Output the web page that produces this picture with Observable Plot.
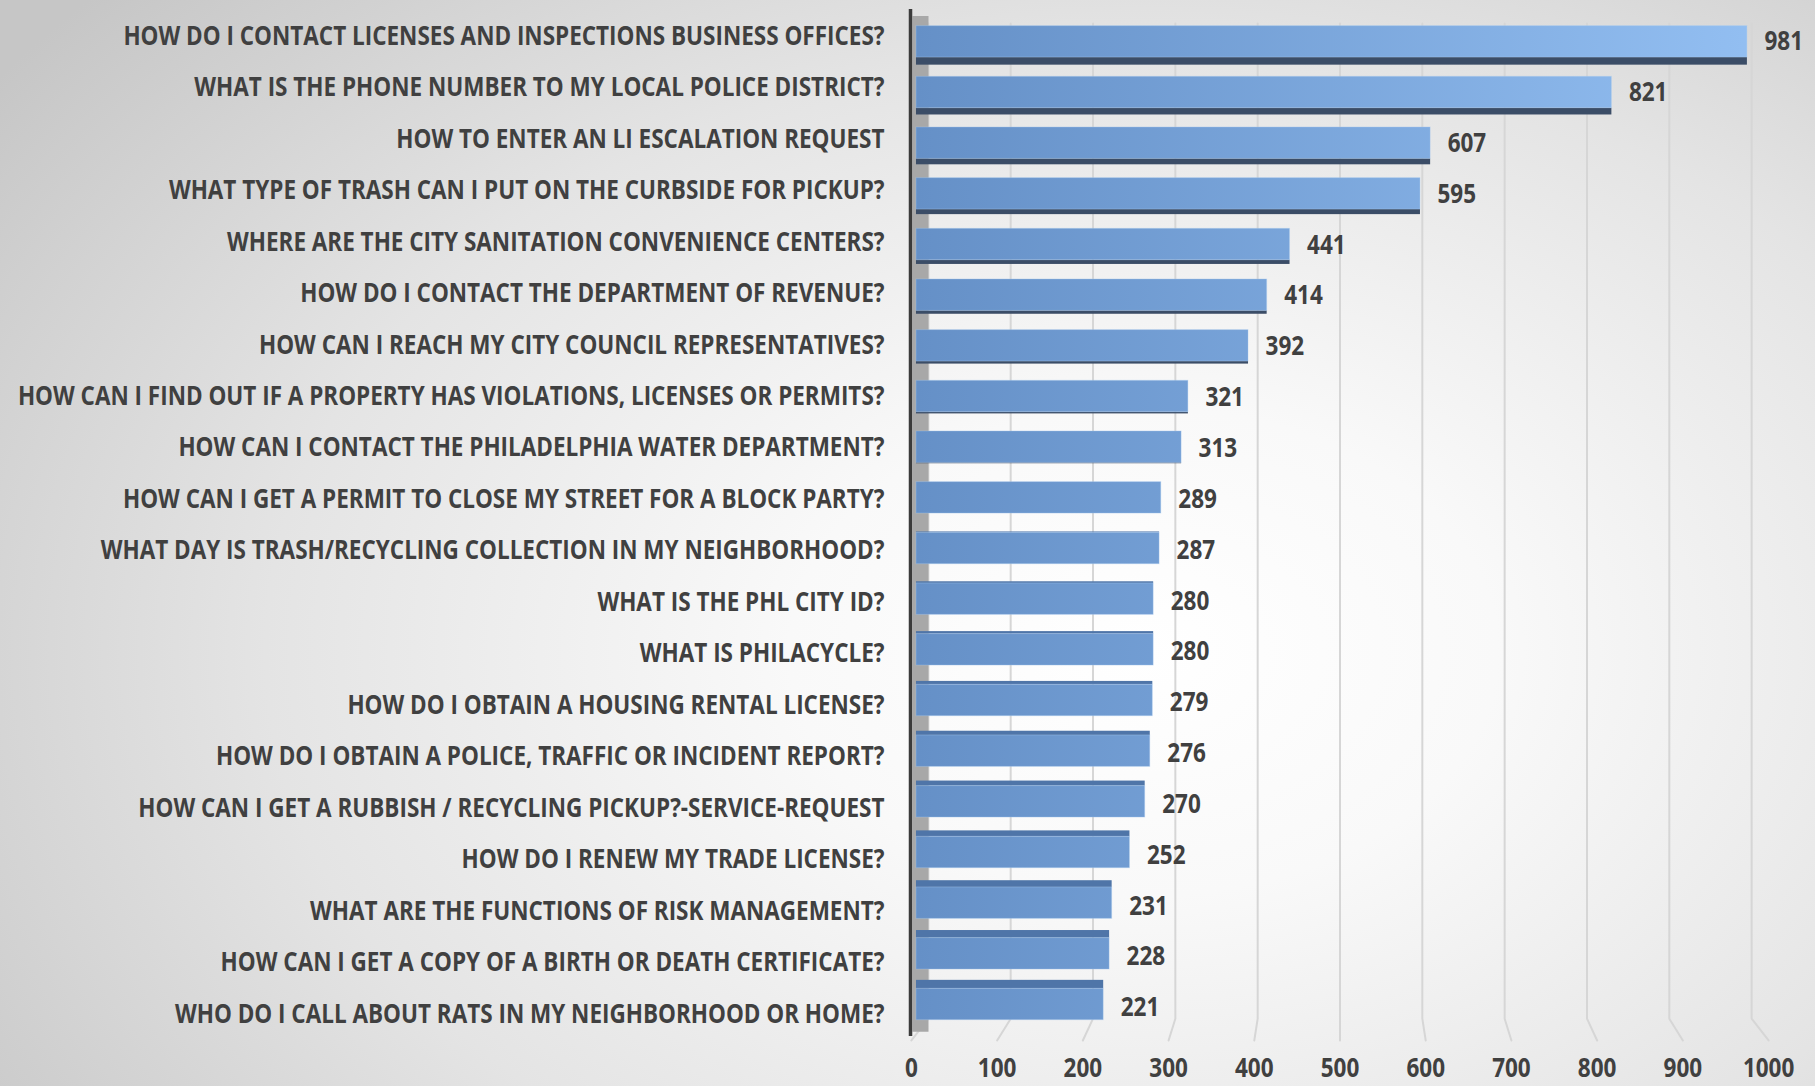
<!DOCTYPE html>
<html>
<head>
<meta charset="utf-8">
<script src="https://cdn.jsdelivr.net/npm/d3@7"></script>
<script src="https://cdn.jsdelivr.net/npm/@observablehq/plot@0.6"></script>
<style>
  html, body { margin: 0; padding: 0; width: 1815px; height: 1086px; overflow: hidden; }
  body {
    background: radial-gradient(ellipse 78% 90% at 63% 60%, #ffffff 0%, #f9f9f9 25%, #e4e4e4 62%, #c6c6c6 100%);
  }
  #chart svg { display: block; }
</style>
</head>
<body>
<div id="chart"></div>
<script>
const questions = [
  "HOW DO I CONTACT LICENSES AND INSPECTIONS BUSINESS OFFICES?",
  "WHAT IS THE PHONE NUMBER TO MY LOCAL POLICE DISTRICT?",
  "HOW TO ENTER AN LI ESCALATION REQUEST",
  "WHAT TYPE OF TRASH CAN I PUT ON THE CURBSIDE FOR PICKUP?",
  "WHERE ARE THE CITY SANITATION CONVENIENCE CENTERS?",
  "HOW DO I CONTACT THE DEPARTMENT OF REVENUE?",
  "HOW CAN I REACH MY CITY COUNCIL REPRESENTATIVES?",
  "HOW CAN I FIND OUT IF A PROPERTY HAS VIOLATIONS, LICENSES OR PERMITS?",
  "HOW CAN I CONTACT THE PHILADELPHIA WATER DEPARTMENT?",
  "HOW CAN I GET A PERMIT TO CLOSE MY STREET FOR A BLOCK PARTY?",
  "WHAT DAY IS TRASH/RECYCLING COLLECTION IN MY NEIGHBORHOOD?",
  "WHAT IS THE PHL CITY ID?",
  "WHAT IS PHILACYCLE?",
  "HOW DO I OBTAIN A HOUSING RENTAL LICENSE?",
  "HOW DO I OBTAIN A POLICE, TRAFFIC OR INCIDENT REPORT?",
  "HOW CAN I GET A RUBBISH / RECYCLING PICKUP?-SERVICE-REQUEST",
  "HOW DO I RENEW MY TRADE LICENSE?",
  "WHAT ARE THE FUNCTIONS OF RISK MANAGEMENT?",
  "HOW CAN I GET A COPY OF A BIRTH OR DEATH CERTIFICATE?",
  "WHO DO I CALL ABOUT RATS IN MY NEIGHBORHOOD OR HOME?"
];
const counts = [981, 821, 607, 595, 441, 414, 392, 321, 313, 289, 287, 280, 280, 279, 276, 270, 252, 231, 228, 221];
const xTicks = [0, 100, 200, 300, 400, 500, 600, 700, 800, 900, 1000];

const rows = questions.map((q, i) => ({q, v: counts[i], i}));

// pseudo-3D helpers (style only)
const H = 0.31;                        // half face height, in row units
const depth = i => 0.15 * (9 - i) / 9; // visible side thickness (+ below, - above)
const backX = v => 14 + 0.972 * v;     // back wall plane
const frontX = v => -6 + 1.012 * v;    // front floor edge

const gridPts = xTicks.flatMap(t => [
  {t, x: backX(t), y: -0.36},
  {t, x: backX(t), y: 19.28},
  {t, x: frontX(t), y: 19.71}
]);

const FONT = '"Open Sans", "Noto Sans", sans-serif';
const TXT = "#404040";

const plot = Plot.plot({
  width: 1815,
  height: 1086,
  margin: 0,
  style: {background: "transparent", fontFamily: FONT},
  x: {domain: [0, 1000], range: [916, 1763], axis: null},
  y: {domain: [0, 19], range: [41.35, 1004], axis: null},
  marks: [
    Plot.line(gridPts, {x: "x", y: "y", z: "t", stroke: "#d6d6d6", strokeWidth: 2}),
    Plot.ruleX([0], {y1: -0.5, y2: 19.55, stroke: "#a8a8a8", strokeWidth: 16, dx: 4}),
    Plot.ruleX([0], {y1: -0.64, y2: 19.63, stroke: "#3b3b3b", strokeWidth: 3.5, dx: -6}),
    // side faces
    Plot.rect(rows.filter(d => depth(d.i) > 0), {
      x1: 0, x2: "v",
      y1: d => d.i + H, y2: d => d.i + H + depth(d.i),
      fill: "#3b4d67"
    }),
    Plot.rect(rows.filter(d => depth(d.i) < 0), {
      x1: 0, x2: "v",
      y1: d => d.i - H + depth(d.i), y2: d => d.i - H,
      fill: "#4f75a8"
    }),
    // front faces
    Plot.rect(rows, {
      x1: 0, x2: "v",
      y1: d => d.i - H, y2: d => d.i + H,
      fill: "url(#barGrad)",
      stroke: "#a9cbf2", strokeOpacity: 0.35, strokeWidth: 1
    }),
    // category labels
    Plot.text(rows, {
      x: 0, y: d => -0.108 + 1.0158 * d.i, text: "q",
      textAnchor: "end", dx: -32,
      fontSize: 26, fontWeight: "bold", fill: TXT, className: "cond"
    }),
    // value labels
    Plot.text(rows, {
      x: "v", y: d => 1.0036 * d.i, text: d => String(d.v),
      textAnchor: "start", dx: 17,
      fontSize: 26, fontWeight: "bold", fill: TXT, className: "cond"
    }),
    // x tick labels
    Plot.text(xTicks, {
      x: d => frontX(d), y: 20.27, text: d => String(d),
      textAnchor: "middle",
      fontSize: 26, fontWeight: "bold", fill: TXT, className: "cond"
    })
  ]
});

const xs = plot.scale("x");
plot.insertAdjacentHTML("afterbegin",
  `<defs><linearGradient id="barGrad" gradientUnits="userSpaceOnUse" x1="${xs.apply(0)}" y1="0" x2="${xs.apply(1000)}" y2="0">
     <stop offset="0" stop-color="#6590c7"/>
     <stop offset="1" stop-color="#93bff2"/>
   </linearGradient></defs>`);

document.getElementById("chart").appendChild(plot);

// condense the text horizontally to mimic the narrow original typeface
plot.querySelectorAll(".cond text").forEach(t => {
  const len = t.getComputedTextLength();
  if (len > 0) {
    t.setAttribute("textLength", (len * 0.865).toFixed(1));
    t.setAttribute("lengthAdjust", "spacingAndGlyphs");
  }
});
</script>
</body>
</html>
